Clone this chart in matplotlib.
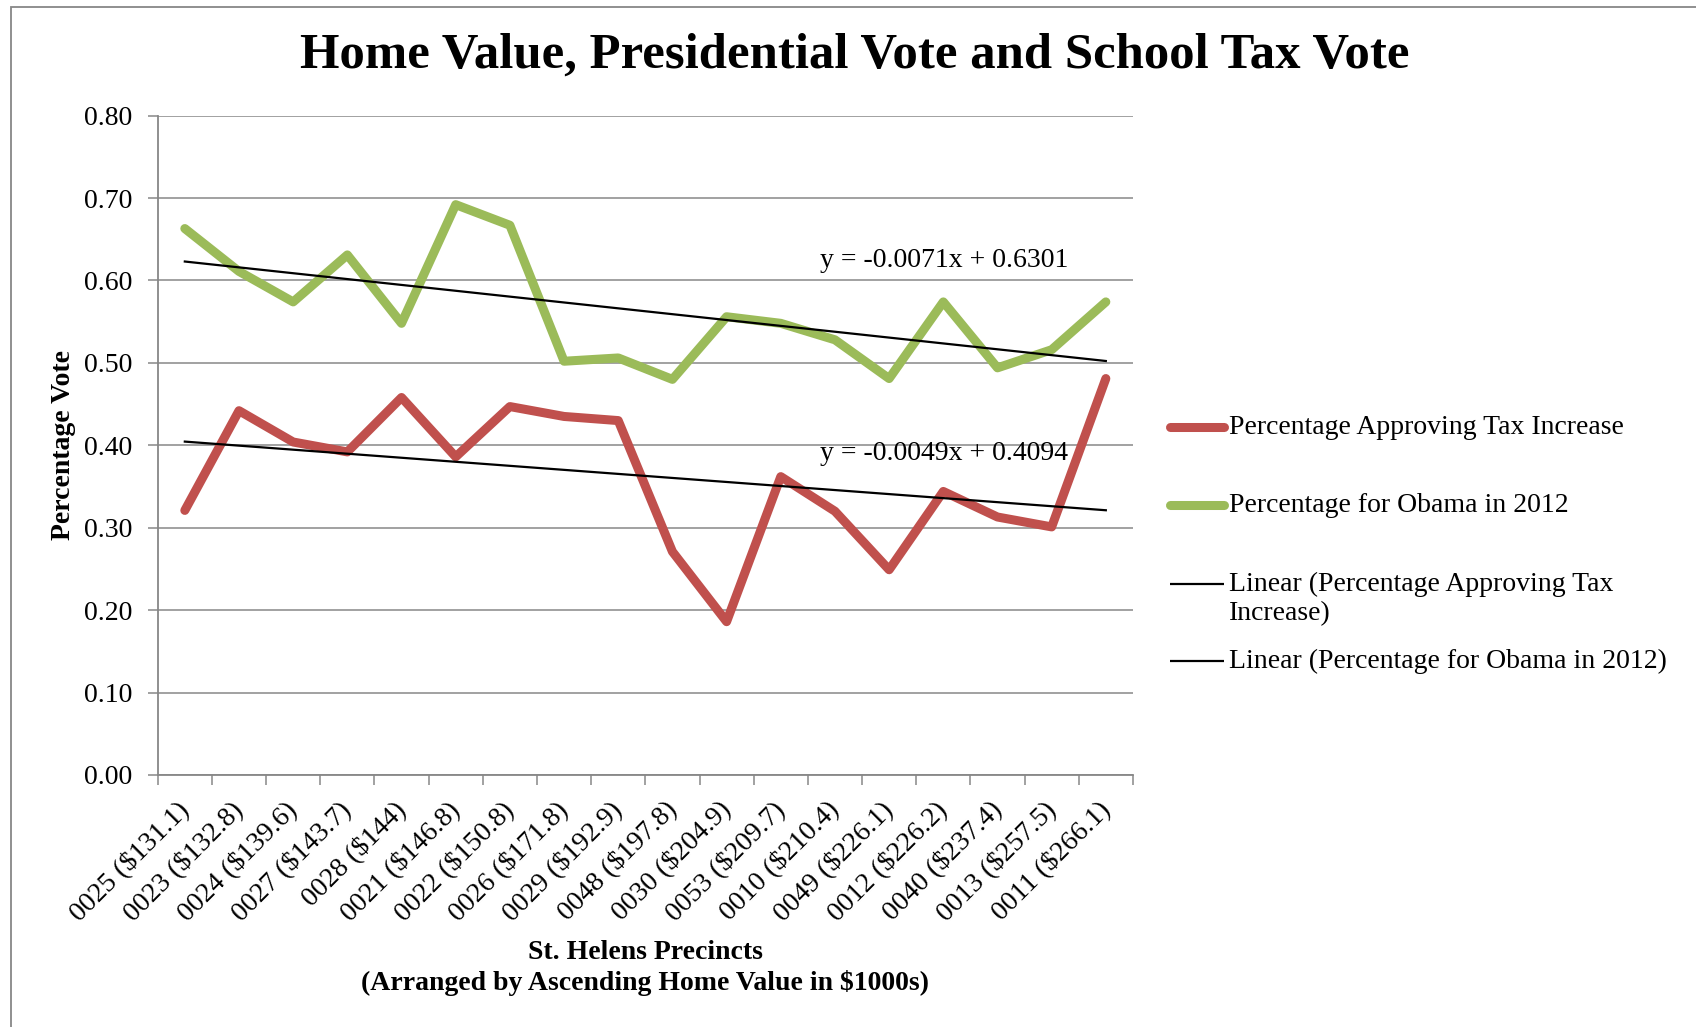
import matplotlib
matplotlib.use("Agg")
import matplotlib.pyplot as plt
from matplotlib.lines import Line2D
from matplotlib.patches import Rectangle
import numpy as np

plt.rcParams['font.family'] = ['Liberation Serif', 'DejaVu Serif']

# precincts, sorted by median home value ($1000s)
precincts = ['0025', '0023', '0024', '0027', '0028', '0021', '0022', '0026', '0029',
             '0048', '0030', '0053', '0010', '0049', '0012', '0040', '0013', '0011']
home_values = ['131.1', '132.8', '139.6', '143.7', '144', '146.8', '150.8', '171.8', '192.9',
               '197.8', '204.9', '209.7', '210.4', '226.1', '226.2', '237.4', '257.5', '266.1']

tax_yes = [0.321, 0.442, 0.404, 0.392, 0.458, 0.386, 0.447, 0.435, 0.430,
           0.271, 0.186, 0.362, 0.320, 0.249, 0.344, 0.313, 0.301, 0.481]
obama = [0.663, 0.611, 0.574, 0.631, 0.548, 0.692, 0.667, 0.502, 0.506,
         0.480, 0.556, 0.548, 0.528, 0.481, 0.574, 0.494, 0.516, 0.574]

# excel trendline coefficients (x = 1..n)
tax_fit = (-0.0049, 0.4094)
obama_fit = (-0.0071, 0.6301)

RED = '#C0504D'
GREEN = '#9BBB59'
GRID = '#878787'
FS = 20

labels = [p + ' (\\$' + v + ')' for p, v in zip(precincts, home_values)]
x = np.arange(len(precincts))
n = x + 1

fig = plt.figure(figsize=(16.96, 10.27), dpi=100)
ax = fig.add_axes([0.093, 0.2454, 0.575, 0.642])

# outer chart border
fig.patches.append(Rectangle((11 / 1696, -0.2), 2, 1.2 - 7 / 1027, transform=fig.transFigure,
                             fill=False, edgecolor=GRID, lw=1.3))

ax.plot(x, tax_yes, color=RED, lw=6.5, solid_capstyle='round', solid_joinstyle='round', zorder=3)
ax.plot(x, obama, color=GREEN, lw=6.5, solid_capstyle='round', solid_joinstyle='round', zorder=3)
ax.plot(x, tax_fit[0] * n + tax_fit[1], color='black', lw=1.6, zorder=4)
ax.plot(x, obama_fit[0] * n + obama_fit[1], color='black', lw=1.6, zorder=4)

ax.text(11.72, 0.624, 'y = %.4fx + %.4f' % obama_fit, fontsize=FS, va='center', ha='left')
ax.text(11.72, 0.390, 'y = %.4fx + %.4f' % tax_fit, fontsize=FS, va='center', ha='left')

ax.set_xlim(-0.5, len(x) - 0.5)
ax.set_ylim(0, 0.8)
ax.set_yticks(np.arange(0, 0.81, 0.1))
ax.set_yticklabels(['%.2f' % t for t in np.arange(0, 0.81, 0.1)], fontsize=FS)
ax.yaxis.grid(True, color=GRID, lw=1.1)
ax.set_axisbelow(True)

ax.set_xticks(np.arange(-0.5, len(x), 1.0))
ax.set_xticklabels([])
ax.set_xticks(x, minor=True)
ax.set_xticklabels(labels, minor=True, rotation=45, ha='right', va='center',
                   rotation_mode='anchor', fontsize=FS)
ax.tick_params(axis='x', which='minor', length=0, pad=22)
ax.tick_params(axis='x', which='major', length=7, width=1.1, color=GRID, direction='out')
ax.tick_params(axis='y', length=7, width=1.1, color=GRID, direction='out', pad=11)

for s in ['top', 'right']:
    ax.spines[s].set_visible(False)
for s in ['left', 'bottom']:
    ax.spines[s].set_color(GRID)
    ax.spines[s].set_linewidth(1.3)

ax.text(-0.0965, 0.5, 'Percentage Vote', transform=ax.transAxes, rotation=90,
        ha='center', va='center', fontsize=FS, fontweight='bold')
ax.text(0.5, -0.2935, 'St. Helens Precincts\n(Arranged by Ascending Home Value in \\$1000s)',
        transform=ax.transAxes, ha='center', va='center', fontsize=FS,
        fontweight='bold', linespacing=1.25)

fig.text(0.504, 0.9455, 'Home Value, Presidential Vote and School Tax Vote',
         ha='center', va='center', fontsize=36.5, fontweight='bold')

# legend, laid out by hand to keep excel's uneven row spacing
legend_rows = [
    (RED, 6.5, 'Percentage Approving Tax Increase', 427),
    (GREEN, 6.5, 'Percentage for Obama in 2012', 505),
    ('black', 1.6, 'Linear (Percentage Approving Tax\nIncrease)', 584),
    ('black', 1.6, 'Linear (Percentage for Obama in 2012)', 661),
]
for color, lw, text, ypix in legend_rows:
    yf = 1 - ypix / 1027
    cap = 'round' if lw > 2 else 'butt'
    fig.add_artist(Line2D([1170 / 1696, 1224 / 1696], [yf, yf], color=color, lw=lw,
                          solid_capstyle=cap, transform=fig.transFigure))
    # two-line entries: first line sits level with the handle
    ytext = yf - (15 / 1027 if '\n' in text else 0)
    fig.text(1229 / 1696, ytext, text, fontsize=FS, ha='left', va='center',
             linespacing=1.22)

fig.savefig('out.png', dpi=100, facecolor='white')
